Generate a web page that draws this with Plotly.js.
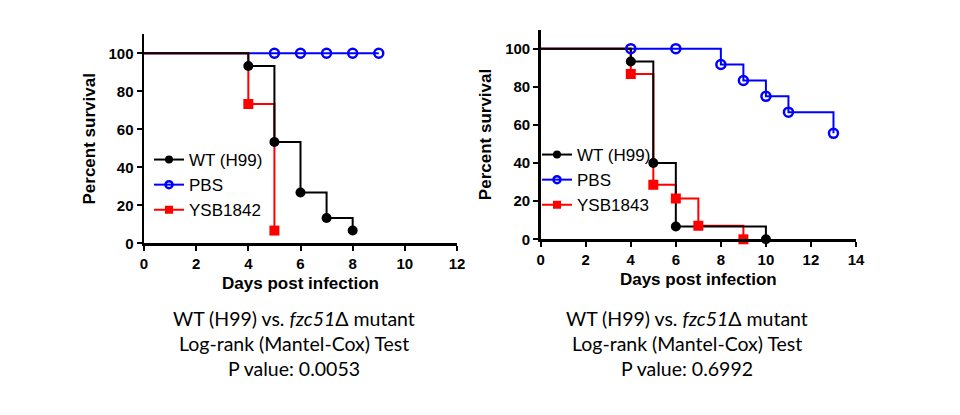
<!DOCTYPE html>
<html>
<head>
<meta charset="utf-8">
<script src="https://cdn.plot.ly/plotly-3.0.1.min.js"></script>
<style>html,body{margin:0;padding:0;background:#fff;}#chart{width:960px;height:415px;}</style>
</head>
<body>
<div id="chart"></div>
<script>
// ---- Data ----
const seriesNames = ["WT (H99)", "PBS"];
const leftMutantName = "YSB1842";
const rightMutantName = "YSB1843";

// Left panel
const L_wt_days  = [0, 4, 5, 6, 7, 8];
const L_wt_surv  = [100, 93.3, 53.3, 26.7, 13.3, 6.7];
const L_pbs_days = [0, 5, 6, 7, 8, 9];
const L_pbs_surv = [100, 100, 100, 100, 100, 100];
const L_mut_days = [0, 4, 5];
const L_mut_surv = [100, 73.3, 6.7];

// Right panel
const R_wt_days  = [0, 4, 5, 6, 10];
const R_wt_surv  = [100, 93.3, 40, 6.7, 0];
const R_pbs_days = [0, 4, 6, 8, 9, 10, 11, 13];
const R_pbs_surv = [100, 100, 100, 91.7, 83.3, 75, 66.7, 55.6];
const R_mut_days = [0, 4, 5, 6, 7, 9];
const R_mut_surv = [100, 86.7, 28.6, 21.4, 7.1, 0];

const yTickVals = [0, 20, 40, 60, 80, 100];
const L_xTickVals = [0, 2, 4, 6, 8, 10, 12];
const R_xTickVals = [0, 2, 4, 6, 8, 10, 12, 14];

const xTitle = "Days post infection";
const yTitle = "Percent survival";
const L_caption = ["WT (H99) vs. <i>fzc51</i>Δ mutant", "Log-rank (Mantel-Cox) Test", "P value: 0.0053"];
const R_caption = ["WT (H99) vs. <i>fzc51</i>Δ mutant", "Log-rank (Mantel-Cox) Test", "P value: 0.6992"];

// ---- Styles ----
const W = 960, H = 415;
const BLACK = "#000000", BLUE = "#0000ff", RED = "#ff0000";
const AX_FONT = "Arial, 'Liberation Sans', sans-serif";
const CAP_FONT = "Lato, 'Open Sans', sans-serif";

const styles = {
  wt:  {color: BLACK, symbol: "circle", size: 10, lw: 0},
  pbs: {color: BLUE, symbol: "circle-open", size: 9, lw: 2.5},
  mut: {color: RED, symbol: "square", size: 10, lw: 0}
};

function lineTrace(x, y, st, xa, ya) {
  return {x: x, y: y, xaxis: xa, yaxis: ya, type: "scatter", mode: "lines",
    line: {shape: "hv", color: st.color, width: 2}, showlegend: false, hoverinfo: "skip", cliponaxis: false};
}
function markerTrace(x, y, st, xa, ya) {
  return {x: x.slice(1), y: y.slice(1), xaxis: xa, yaxis: ya, type: "scatter", mode: "markers",
    marker: {symbol: st.symbol, size: st.size, color: st.color, line: {color: st.color, width: st.lw}},
    showlegend: false, cliponaxis: false};
}
function legendTrace(name, st, xa, ya, lg) {
  return {x: [null], y: [null], xaxis: xa, yaxis: ya, type: "scatter", mode: "lines+markers", name: name,
    legend: lg, line: {color: st.color, width: 2},
    marker: {symbol: st.symbol, size: st.size - 2, color: st.color, line: {color: st.color, width: st.lw}}};
}

const traces = [
  lineTrace(L_pbs_days, L_pbs_surv, styles.pbs, "x", "y"),
  lineTrace(L_mut_days, L_mut_surv, styles.mut, "x", "y"),
  lineTrace(L_wt_days, L_wt_surv, styles.wt, "x", "y"),
  markerTrace(L_pbs_days, L_pbs_surv, styles.pbs, "x", "y"),
  markerTrace(L_mut_days, L_mut_surv, styles.mut, "x", "y"),
  markerTrace(L_wt_days, L_wt_surv, styles.wt, "x", "y"),
  legendTrace(seriesNames[0], styles.wt, "x", "y", "legend"),
  legendTrace(seriesNames[1], styles.pbs, "x", "y", "legend"),
  legendTrace(leftMutantName, styles.mut, "x", "y", "legend"),

  lineTrace(R_pbs_days, R_pbs_surv, styles.pbs, "x2", "y2"),
  lineTrace(R_mut_days, R_mut_surv, styles.mut, "x2", "y2"),
  lineTrace(R_wt_days, R_wt_surv, styles.wt, "x2", "y2"),
  markerTrace(R_pbs_days, R_pbs_surv, styles.pbs, "x2", "y2"),
  markerTrace(R_mut_days, R_mut_surv, styles.mut, "x2", "y2"),
  markerTrace(R_wt_days, R_wt_surv, styles.wt, "x2", "y2"),
  legendTrace(seriesNames[0], styles.wt, "x2", "y2", "legend2"),
  legendTrace(seriesNames[1], styles.pbs, "x2", "y2", "legend2"),
  legendTrace(rightMutantName, styles.mut, "x2", "y2", "legend2")
];

function px2fx(px) { return px / W; }
function px2fy(py) { return 1 - py / H; }

function xAxis(range, tickvals, x0, x1, anchor) {
  return {domain: [px2fx(x0), px2fx(x1)], range: range, anchor: anchor, tickmode: "array", tickvals: tickvals,
    showgrid: false, zeroline: false, showline: true, linecolor: BLACK, linewidth: 2.5,
    ticks: "outside", ticklen: 5, tickwidth: 2, tickcolor: BLACK,
    tickfont: {family: AX_FONT, size: 15, color: BLACK, weight: "bold"},
    title: {text: "<b>" + xTitle + "</b>", font: {family: AX_FONT, size: 17, color: BLACK}, standoff: 7},
    fixedrange: true, automargin: false};
}
function yAxis(range, tickvals, y0, y1, anchor) {
  return {domain: [px2fy(y0), px2fy(y1)], range: range, anchor: anchor, tickmode: "array", tickvals: tickvals,
    showgrid: false, zeroline: false, showline: true, linecolor: BLACK, linewidth: 2.5,
    ticks: "outside", ticklen: 5, tickwidth: 2, tickcolor: BLACK,
    tickfont: {family: AX_FONT, size: 15, color: BLACK, weight: "bold"},
    title: {text: "<b>" + yTitle + "</b>", font: {family: AX_FONT, size: 17, color: BLACK}, standoff: 9},
    fixedrange: true, automargin: false};
}

const annotations = [];
const capY = [318, 343, 368];
function addCaption(lines, cx) {
  lines.forEach(function (t, i) {
    annotations.push({text: t, xref: "paper", yref: "paper", x: px2fx(cx), y: px2fy(capY[i]),
      xanchor: "center", yanchor: "middle", showarrow: false,
      font: {family: CAP_FONT, size: 19.5, color: BLACK}});
  });
}
addCaption(L_caption, 294);
addCaption(R_caption, 687);

const layout = {
  width: W, height: H, margin: {l: 0, r: 0, t: 0, b: 0},
  paper_bgcolor: "#ffffff", plot_bgcolor: "rgba(0,0,0,0)",
  xaxis: xAxis([0, 12], L_xTickVals, 144, 457, "y"),
  yaxis: yAxis([0, 110], yTickVals, 243.3, 34.3, "x"),
  xaxis2: xAxis([0, 14], R_xTickVals, 540.7, 856, "y2"),
  yaxis2: yAxis([0, 110], yTickVals, 239.3, 29.6, "x2"),
  legend: {x: px2fx(149), y: px2fy(142), xanchor: "left", yanchor: "top", bgcolor: "rgba(0,0,0,0)",
    font: {family: AX_FONT, size: 17, color: BLACK}, itemwidth: 30, tracegroupgap: 0},
  legend2: {x: px2fx(537), y: px2fy(137), xanchor: "left", yanchor: "top", bgcolor: "rgba(0,0,0,0)",
    font: {family: AX_FONT, size: 17, color: BLACK}, itemwidth: 30, tracegroupgap: 0},
  annotations: annotations,
  showlegend: true
};

Plotly.newPlot("chart", traces, layout, {displayModeBar: false, staticPlot: true});
</script>
</body>
</html>
